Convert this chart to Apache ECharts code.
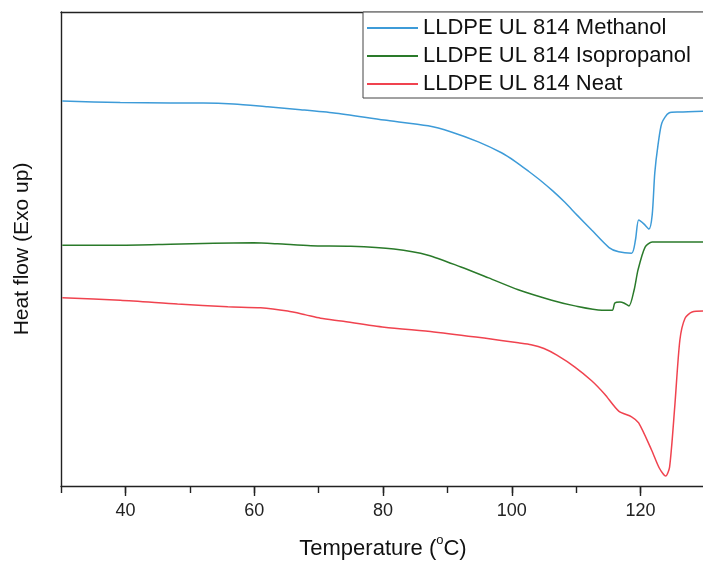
<!DOCTYPE html>
<html>
<head>
<meta charset="utf-8">
<script src="https://cdn.jsdelivr.net/npm/echarts@6/dist/echarts.min.js"></script>
<style>html,body{margin:0;padding:0;background:#fff}#c{width:703px;height:561px}</style>
</head>
<body>
<div id="c"></div>
<script>
const seriesNames = ['LLDPE UL 814 Methanol', 'LLDPE UL 814 Isopropanol', 'LLDPE UL 814 Neat'];
const xTickLabels = [40, 60, 80, 100, 120];

const methanolT  = [30.2, 39.2, 47.0, 52.1, 56.8, 62.1, 67.2, 72.4, 80.2, 87.0, 90.6, 94.8, 98.4, 100.5, 102.6, 104.6, 106.4, 108.2, 110.1, 112.4, 115.1, 116.6, 118.6, 119.2, 119.7, 120.5, 121.3, 121.8, 122.2, 122.7, 123.3, 124.4, 126.0, 130.0];
const methanolHF = [81.2, 80.9, 80.8, 80.8, 80.6, 80.0, 79.4, 78.7, 77.2, 76.0, 74.7, 72.6, 70.3, 68.5, 66.4, 64.3, 62.2, 59.9, 57.2, 54.0, 50.3, 49.4, 49.1, 51.9, 56.1, 55.3, 54.2, 57.2, 66.0, 71.9, 76.6, 78.7, 78.9, 79.1];

const isoT  = [30.2, 39.2, 47.0, 53.7, 59.9, 63.6, 68.8, 75.0, 81.7, 87.0, 92.1, 96.4, 101.0, 106.2, 109.8, 114.0, 115.6, 116.0, 116.8, 117.4, 118.2, 119.0, 119.6, 120.7, 121.8, 130.0];
const isoHF = [50.8, 50.8, 51.0, 51.2, 51.3, 51.1, 50.7, 50.6, 50.0, 48.7, 46.2, 43.9, 41.4, 39.2, 38.0, 37.1, 37.1, 38.6, 38.8, 38.6, 38.0, 41.4, 45.6, 50.4, 51.5, 51.5];

const neatT  = [30.2, 39.2, 48.1, 55.9, 61.0, 65.2, 68.0, 70.3, 73.5, 80.2, 87.9, 95.7, 101.0, 103.0, 105.0, 107.0, 109.8, 112.4, 114.4, 116.6, 118.6, 119.7, 121.7, 122.9, 123.9, 124.5, 125.3, 126.1, 126.9, 128.0, 130.0];
const neatHF = [39.7, 39.2, 38.4, 37.8, 37.6, 36.9, 36.1, 35.4, 34.8, 33.5, 32.5, 31.2, 30.2, 29.8, 29.0, 27.6, 25.1, 22.2, 19.4, 15.8, 14.6, 13.3, 7.6, 3.8, 2.1, 4.0, 16.7, 30.8, 35.4, 36.7, 36.9];

const colors = ['#3d9bd8', '#2a7a2a', '#f0434f'];
const zip = (a, b) => a.map((v, i) => [v, b[i]]);
const seriesData = [zip(methanolT, methanolHF), zip(isoT, isoHF), zip(neatT, neatHF)];

const font = 'Liberation Sans, Arial, sans-serif';
const chart = echarts.init(document.getElementById('c'), null, {renderer: 'canvas'});
chart.setOption({
  animation: false,
  backgroundColor: '#fff',
  grid: {left: 61, right: -2, top: 12, bottom: 75, containLabel: false, outerBoundsMode: 'none'},
  legend: {
    orient: 'vertical', left: 363, top: 12,
    padding: [4, 30, 2, 4],
    itemGap: 4, itemWidth: 51, itemHeight: 2,
    icon: 'rect',
    borderColor: '#444', borderWidth: 1, backgroundColor: '#fff',
    textStyle: {fontFamily: font, fontSize: 22, color: '#111', lineHeight: 24},
    data: seriesNames
  },
  xAxis: [
    {
      type: 'value', min: 30, max: 130, interval: 10, position: 'bottom',
      axisLine: {show: true, onZero: false, lineStyle: {color: '#222', width: 1.4}},
      axisTick: {show: true, length: 7, lineStyle: {color: '#222', width: 1.4}},
      axisLabel: {show: true, customValues: xTickLabels, margin: 16, fontFamily: font, fontSize: 18, color: '#222'},
      splitLine: {show: false},
      name: 'Temperature ({sup|o}C)', nameLocation: 'middle', nameGap: 48,
      nameTextStyle: {fontFamily: font, fontSize: 22, color: '#111',
        rich: {sup: {fontFamily: font, fontSize: 13, padding: [0, 0, 16, 0], color: '#111'}}}
    },
    {
      type: 'value', min: 30, max: 130, interval: 10, position: 'bottom',
      axisLine: {show: false},
      axisTick: {show: true, customValues: xTickLabels, length: 10, lineStyle: {color: '#222', width: 1.4}},
      axisLabel: {show: false}, splitLine: {show: false}
    },
    {
      type: 'value', min: 30, max: 130, position: 'top',
      axisLine: {show: true, onZero: false, lineStyle: {color: '#222', width: 1.4}},
      axisTick: {show: false}, axisLabel: {show: false}, splitLine: {show: false}
    }
  ],
  yAxis: {
    type: 'value', min: 0, max: 100,
    axisLine: {show: true, onZero: false, lineStyle: {color: '#222', width: 1.4}},
    axisTick: {show: false}, axisLabel: {show: false}, splitLine: {show: false},
    name: 'Heat flow (Exo up)', nameLocation: 'middle', nameGap: 28, nameRotate: 90,
    nameTextStyle: {fontFamily: font, fontSize: 21, color: '#111'}
  },
  series: seriesNames.map((n, i) => ({
    name: n, type: 'line', xAxisIndex: 0, data: seriesData[i],
    showSymbol: false, symbol: 'none', smooth: 0.25,
    lineStyle: {color: colors[i], width: 1.5}, itemStyle: {color: colors[i]}
  }))
});
</script>
</body>
</html>
